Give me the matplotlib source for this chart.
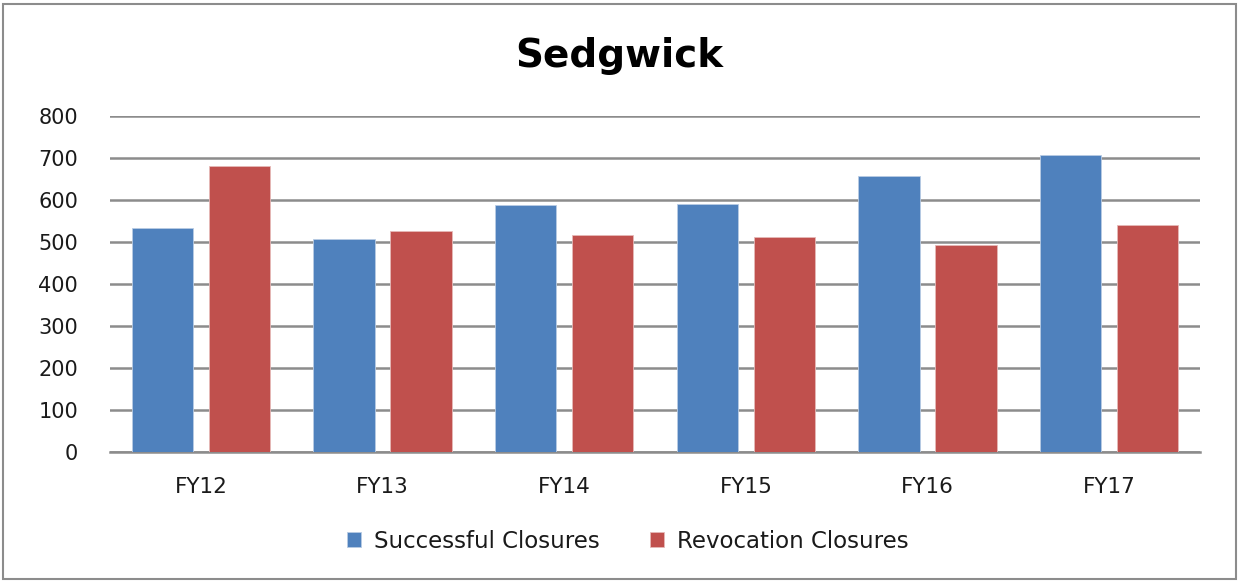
import matplotlib
matplotlib.use("Agg")
import matplotlib.pyplot as plt
import numpy as np
from matplotlib.patches import Rectangle

categories = ["FY12", "FY13", "FY14", "FY15", "FY16", "FY17"]
successful = [533, 506, 587, 591, 656, 707]
revocation = [680, 527, 517, 512, 493, 541]
yticks = [0, 100, 200, 300, 400, 500, 600, 700, 800]

plt.rcParams['font.family'] = ['DejaVu Sans']

fig = plt.figure(figsize=(12.39, 5.82), dpi=100)
ax = fig.add_axes([110/1239, 130/582, (1200-110)/1239, (452-116)/582])

x = np.arange(len(categories))
w = 0.336
off = 0.212
blue = '#4F81BD'
red = '#C0504D'
ax.bar(x - off, successful, w, color=blue, edgecolor='#B8CCE4', linewidth=0.6, label='Successful Closures', zorder=3)
ax.bar(x + off, revocation, w, color=red, edgecolor='#E6B9B8', linewidth=0.6, label='Revocation Closures', zorder=3)

ax.set_xlim(-0.5, 5.5)
ax.set_ylim(0, 800)
ax.set_yticks(yticks)
ax.set_yticklabels([str(v) for v in yticks], fontsize=15, color='#1a1a1a')
ax.set_xticks(x)
ax.set_xticklabels(categories, fontsize=15.5, color='#1a1a1a')
ax.yaxis.grid(True, color='#8C8C8C', linewidth=1.8, zorder=0)
ax.set_axisbelow(True)
for s in ['left', 'right', 'top']:
    ax.spines[s].set_visible(False)
ax.spines['bottom'].set_color('#8C8C8C')
ax.spines['bottom'].set_linewidth(1.8)
ax.tick_params(axis='y', length=0, pad=23)
ax.tick_params(axis='x', length=0, pad=18)

fig.text(0.5, 1 - 56/582, "Sedgwick", ha='center', va='center', fontsize=28, fontweight='bold', color='black')

leg = fig.legend(loc='center', bbox_to_anchor=(0.5065, 1 - 541/582), ncol=2, frameon=False,
                 fontsize=16.5, handlelength=0.62, handleheight=0.62, columnspacing=2.2, handletextpad=0.55)
for t in leg.get_texts():
    t.set_color('#1a1a1a')

fig.patches.append(Rectangle((3/1239, 3/582), 1233/1239, 575/582, transform=fig.transFigure,
                             fill=False, edgecolor='#8C8C8C', linewidth=1.5))

fig.savefig("out.png", dpi=100, facecolor='white')
